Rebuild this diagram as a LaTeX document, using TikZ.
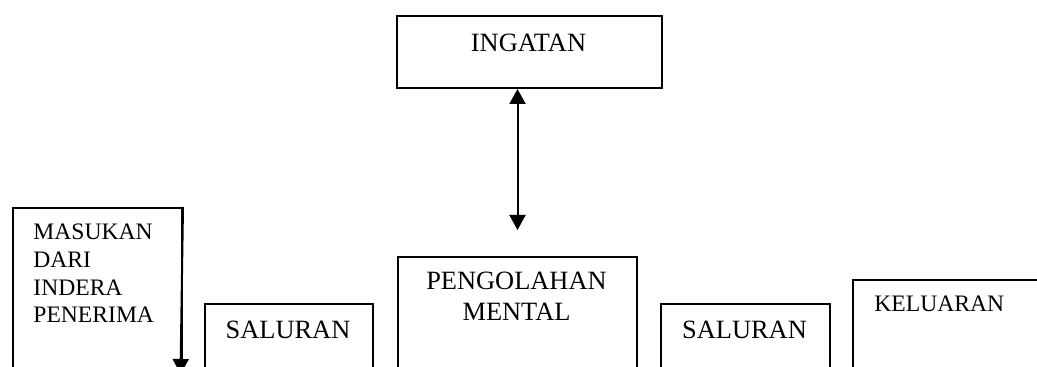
\documentclass[tikz,border=0pt]{standalone}
\usepackage{fontspec}
\setmainfont{Liberation Serif}
\usetikzlibrary{arrows.meta}

\tikzset{
  box/.style={draw,line width=1pt,inner sep=0pt,anchor=north west},
  bigtxt/.style={font=\fontsize{13.2}{15.5}\selectfont,inner sep=0pt,align=center},
  smalltxt/.style={font=\fontsize{11.8}{13.85}\selectfont,inner sep=0pt,align=left},
  tri/.tip={Triangle[width=8pt,length=7.5pt]}
}

\begin{document}
\begin{tikzpicture}[x=0.5pt,y=-0.5pt]
  \useasboundingbox (0,0) rectangle (1037,367);
  \clip (0,0) rectangle (1037,367);

  % boxes (the lower ones run off the bottom of the page)
  \node[box,minimum width=132.5pt,minimum height=36pt] (ingatan) at (396,15) {};
  \node[box,minimum width=119.5pt,minimum height=72pt] (pengolahan) at (397,256) {};
  \node[box,minimum width=84.5pt,minimum height=96.5pt] (masukan) at (12,207) {};
  \node[box,minimum width=84pt,minimum height=50pt] (saluranA) at (204,303) {};
  \node[box,minimum width=84.5pt,minimum height=50pt] (saluranB) at (660,303) {};
  \node[box,minimum width=125pt,minimum height=70pt] (keluaran) at (852,279) {};

  % texts (base = baseline of the last line)
  \node[bigtxt,anchor=base] (tIngatan) at (528.5,52) {INGATAN};
  \node[bigtxt,anchor=base] (tPengolahan) at (516.5,321) {PENGOLAHAN\\MENTAL};
  \node[smalltxt,anchor=base west] (tMasukan) at (33,323) {MASUKAN\\DARI\\INDERA\\PENERIMA};
  \node[bigtxt,anchor=base] (tSaluranA) at (288,339) {SALURAN};
  \node[bigtxt,anchor=base] (tSaluranB) at (744.5,339) {SALURAN};
  \node[smalltxt,anchor=base west] (tKeluaran) at (874,312) {KELUARAN};

  % arrows
  \draw[line width=1pt,tri-tri,shorten >=13pt]
    (ingatan.south -| pengolahan.north) -- (pengolahan.north);
  \coordinate (masukanEnd) at (180.5,374);
  \draw[line width=1pt,-tri] (masukan.north east) -- (masukanEnd);
\end{tikzpicture}
\end{document}
